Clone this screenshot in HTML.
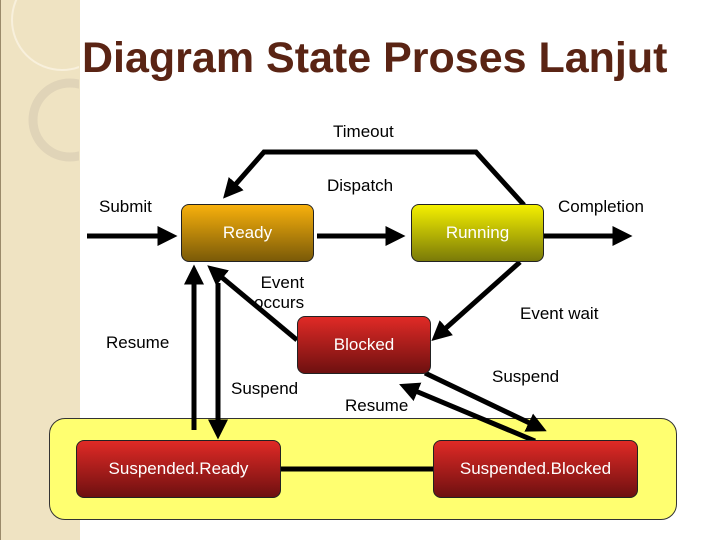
<!DOCTYPE html>
<html><head><style>
body{margin:0;width:720px;height:540px;overflow:hidden;background:#fff;font-family:"Liberation Sans",sans-serif;position:relative}
.side{position:absolute;left:0;top:0;width:79px;height:540px;background:#efe3c2;border-left:1px solid #9a8a6a}
.t{position:absolute;font-size:17px;color:#000;white-space:nowrap}
.n{position:absolute;border:1px solid #222;border-radius:8px;color:#fff;font-size:17px;display:flex;align-items:center;justify-content:center;box-sizing:border-box}
.red{background:linear-gradient(#e02a26,#6e1010)}
</style></head><body>
<div class="side"></div>
<svg style="position:absolute;left:0;top:0" width="79" height="200"><circle cx="62" cy="20" r="50" fill="none" stroke="#f8f0dc" stroke-width="2"/><circle cx="70" cy="120" r="37" fill="none" stroke="#e0d4b8" stroke-width="9"/></svg>
<div style="position:absolute;left:49px;top:418px;width:628px;height:102px;background:#ffff70;border:1px solid #333;border-radius:16px;box-sizing:border-box"></div>
<div style="position:absolute;left:82px;top:34px;font-size:43px;font-weight:bold;color:#5a2414;white-space:nowrap">Diagram State Proses Lanjut</div>
<svg style="position:absolute;left:0;top:0" width="720" height="540">
<defs><marker id="a" markerWidth="4" markerHeight="4" refX="2.5" refY="2" orient="auto"><path d="M0,0L4,2L0,4z" fill="#000"/></marker></defs>
<g stroke="#000" stroke-width="5" fill="none" marker-end="url(#a)">
<line x1="87" y1="236" x2="170" y2="236"/>
<line x1="543" y1="236" x2="625" y2="236"/>
<line x1="317" y1="236" x2="398" y2="236"/>
<polyline points="524,205 476,152 264,152 228,193"/>
<line x1="520" y1="262" x2="437" y2="336"/>
<line x1="297" y1="340" x2="213" y2="270"/>
<line x1="194" y1="430" x2="194" y2="272"/>
<line x1="218" y1="283" x2="218" y2="432"/>
<line x1="425" y1="373" x2="540" y2="428"/>
<line x1="535" y1="441" x2="406" y2="387"/>
</g>
<line x1="280" y1="469" x2="433" y2="469" stroke="#000" stroke-width="5"/>
</svg>
<div class="n" style="left:181px;top:204px;width:133px;height:58px;background:linear-gradient(#f7b00c,#7a5a08)">Ready</div>
<div class="n" style="left:411px;top:204px;width:133px;height:58px;background:linear-gradient(#f4f000,#7a7a08)">Running</div>
<div class="n red" style="left:297px;top:316px;width:134px;height:58px">Blocked</div>
<div class="n red" style="left:76px;top:440px;width:205px;height:58px">Suspended.Ready</div>
<div class="n red" style="left:433px;top:440px;width:205px;height:58px">Suspended.Blocked</div>
<div class="t" style="left:333px;top:122px">Timeout</div>
<div class="t" style="left:327px;top:176px">Dispatch</div>
<div class="t" style="left:99px;top:197px">Submit</div>
<div class="t" style="left:558px;top:197px">Completion</div>
<div class="t" style="left:254px;top:273px;line-height:20px;text-align:right">Event<br>occurs</div>
<div class="t" style="left:520px;top:304px">Event wait</div>
<div class="t" style="left:106px;top:333px">Resume</div>
<div class="t" style="left:231px;top:379px">Suspend</div>
<div class="t" style="left:345px;top:396px">Resume</div>
<div class="t" style="left:492px;top:367px">Suspend</div>
</body></html>
